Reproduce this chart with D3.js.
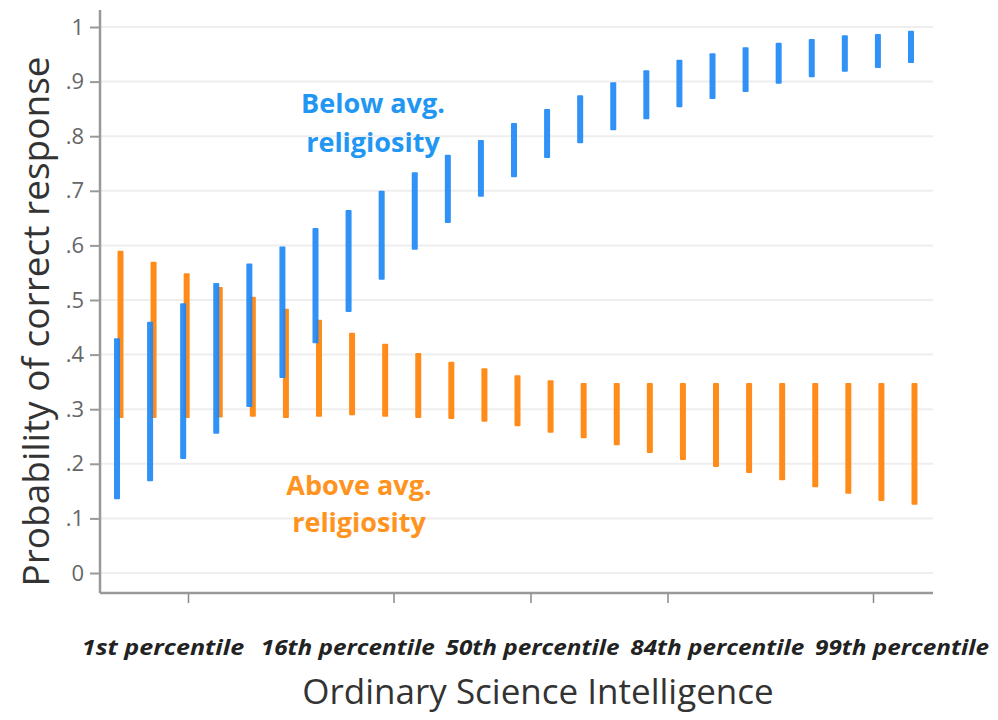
<!DOCTYPE html>
<html>
<head>
<meta charset="utf-8">
<script src="https://cdn.jsdelivr.net/npm/d3@7"></script>
<style>
  body { margin: 0; background: #fff; }
  text { font-family: "Open Sans", "DejaVu Sans", sans-serif; }
</style>
</head>
<body>
<div class="chart"></div>
<script>
// predicted probability ranges, 25 steps along OSI
var bars = d3.range(25);

var belowLow  = [0.135, 0.168, 0.209, 0.255, 0.304, 0.357, 0.421, 0.478, 0.537, 0.592, 0.641, 0.689, 0.725,
                 0.760, 0.787, 0.811, 0.831, 0.853, 0.868, 0.881, 0.896, 0.908, 0.918, 0.925, 0.934];
var belowHigh = [0.430, 0.460, 0.494, 0.531, 0.567, 0.598, 0.632, 0.665, 0.700, 0.734, 0.766, 0.793, 0.824,
                 0.850, 0.875, 0.899, 0.921, 0.940, 0.952, 0.963, 0.971, 0.978, 0.985, 0.987, 0.993];

var aboveLow  = [0.284, 0.284, 0.284, 0.285, 0.286, 0.284, 0.286, 0.289, 0.286, 0.284, 0.282, 0.277, 0.269,
                 0.257, 0.247, 0.234, 0.220, 0.207, 0.194, 0.183, 0.170, 0.157, 0.145, 0.132, 0.125];
var aboveHigh = [0.590, 0.570, 0.549, 0.524, 0.506, 0.484, 0.464, 0.440, 0.420, 0.403, 0.387, 0.375, 0.362,
                 0.353, 0.348, 0.348, 0.348, 0.348, 0.348, 0.348, 0.348, 0.348, 0.348, 0.348, 0.348];

var yTicks = [0, 0.1, 0.2, 0.3, 0.4, 0.5, 0.6, 0.7, 0.8, 0.9, 1];
var xTicks = [-2.5, -1, 0, 1, 2.5];
var pctLabels = ["1st percentile", "16th percentile", "50th percentile", "84th percentile", "99th percentile"];

var svgWidth = 998;
var svgHeight = 720;

var margin = { top: 10, right: 65, bottom: 127, left: 100 };
var width = svgWidth - margin.left - margin.right;
var height = svgHeight - margin.top - margin.bottom;

var svg = d3.select(".chart")
  .append("svg")
  .attr("width", svgWidth)
  .attr("height", svgHeight);

var chartGroup = svg.append("g")
  .attr("transform", `translate(${margin.left}, ${margin.top})`);

// scales
var yScale = d3.scaleLinear().domain([0, 1]).range([height - 20, 17]);
var xBar = d3.scalePoint().domain(bars).range([17, 811]);
var xTick = d3.scaleLinear().domain([-2.5, 2.5]).range([88, 773]);
var xLabel = d3.scalePoint().domain(pctLabels).range([63, 802]);

// grid lines
chartGroup.append("g")
  .selectAll("line")
  .data(yTicks)
  .enter()
  .append("line")
  .attr("x1", 0)
  .attr("x2", width)
  .attr("y1", d => yScale(d))
  .attr("y2", d => yScale(d))
  .attr("stroke", "#eeeeee")
  .attr("stroke-width", 2);

// y axis
var leftAxis = d3.axisLeft(yScale)
  .tickValues(yTicks)
  .tickSize(10)
  .tickPadding(6)
  .tickFormat(d => d === 0 ? "0" : d === 1 ? "1" : d3.format(".1f")(d).replace(/^0/, ""));

var yAxis = chartGroup.append("g").call(leftAxis);
yAxis.select(".domain").remove();
yAxis.selectAll(".tick line").attr("stroke", "#999").attr("stroke-width", 2);
yAxis.selectAll(".tick text").attr("fill", "#666").style("font-size", "22px");

chartGroup.append("line")
  .attr("x1", 0).attr("x2", 0)
  .attr("y1", 0).attr("y2", height)
  .attr("stroke", "#999").attr("stroke-width", 2.5);

// x axis
var bottomAxis = d3.axisBottom(xTick)
  .tickValues(xTicks)
  .tickSize(10)
  .tickFormat("");

var xAxis = chartGroup.append("g")
  .attr("transform", `translate(0, ${height})`)
  .call(bottomAxis);
xAxis.select(".domain").remove();
xAxis.selectAll(".tick line").attr("stroke", "#888").attr("stroke-width", 1.5);

chartGroup.append("line")
  .attr("x1", 0).attr("x2", width)
  .attr("y1", height).attr("y2", height)
  .attr("stroke", "#999").attr("stroke-width", 2.5);

// above avg. religiosity (orange)
chartGroup.append("g")
  .selectAll("rect")
  .data(bars)
  .enter()
  .append("rect")
  .attr("x", d => xBar(d) + 0.5)
  .attr("width", 6)
  .attr("y", d => yScale(aboveHigh[d]))
  .attr("height", d => yScale(aboveLow[d]) - yScale(aboveHigh[d]))
  .attr("rx", 1)
  .attr("fill", "#ff8c1a");

// below avg. religiosity (blue)
chartGroup.append("g")
  .selectAll("rect")
  .data(bars)
  .enter()
  .append("rect")
  .attr("x", d => xBar(d) - 3)
  .attr("width", 6)
  .attr("y", d => yScale(belowHigh[d]))
  .attr("height", d => yScale(belowLow[d]) - yScale(belowHigh[d]))
  .attr("rx", 1)
  .attr("fill", "#1e88f5")
  .attr("opacity", 0.92);

// series labels
function seriesLabel(x, y, colour, words) {
  chartGroup.append("text")
    .attr("x", x).attr("y", y)
    .attr("text-anchor", "middle")
    .attr("fill", colour)
    .style("font-size", "27px").style("font-weight", "bold")
    .text(words);
}
seriesLabel(273, 103, "#2196f3", "Below avg.");
seriesLabel(273, 142, "#2196f3", "religiosity");
seriesLabel(259, 485, "#ff9320", "Above avg.");
seriesLabel(259, 522, "#ff9320", "religiosity");

// percentile labels
chartGroup.append("g")
  .selectAll("text")
  .data(pctLabels)
  .enter()
  .append("text")
  .attr("x", d => xLabel(d))
  .attr("y", height + 62)
  .attr("text-anchor", "middle")
  .attr("fill", "#222")
  .attr("textLength", d => d.length * 11.6)
  .attr("lengthAdjust", "spacingAndGlyphs")
  .style("font-size", "21px")
  .style("font-weight", "bold")
  .style("font-style", "italic")
  .text(d => d);

// axis titles
chartGroup.append("text")
  .attr("transform", "rotate(-90)")
  .attr("x", 0 - (height / 2) - 20)
  .attr("y", 0 - margin.left + 49)
  .attr("text-anchor", "middle")
  .attr("fill", "#333")
  .style("font-size", "37px")
  .text("Probability of correct response");

chartGroup.append("text")
  .attr("x", 438)
  .attr("y", height + 111)
  .attr("text-anchor", "middle")
  .attr("fill", "#333")
  .style("font-size", "35px")
  .text("Ordinary Science Intelligence");
</script>
</body>
</html>
